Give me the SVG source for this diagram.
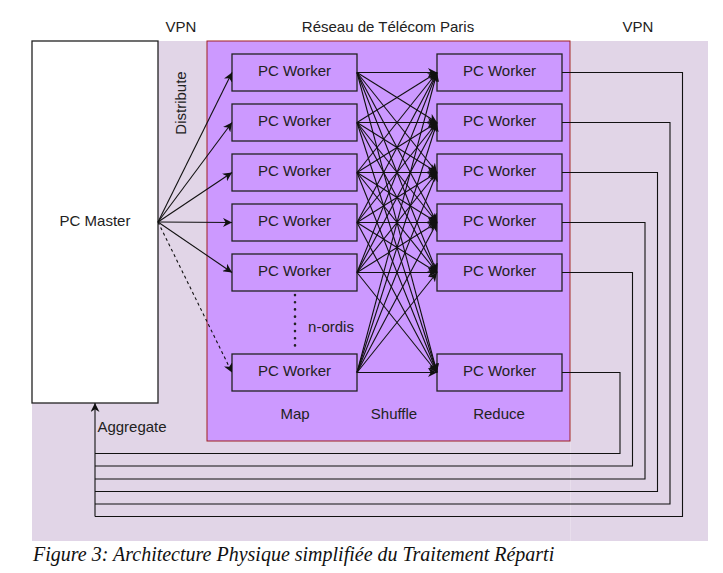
<svg xmlns="http://www.w3.org/2000/svg" width="723" height="573" viewBox="0 0 723 573">
<style>
.t{font-family:"Liberation Sans",Arial,sans-serif;font-size:15px;fill:#222;text-anchor:middle;dominant-baseline:central}
.node{fill:#CC99FF;stroke:#222;stroke-width:1.3}
.c{fill:none;stroke:#111;stroke-width:1.1}
</style>
<defs>
<marker id="ar" viewBox="0 0 10 10" refX="10" refY="5" markerWidth="9" markerHeight="9" markerUnits="userSpaceOnUse" orient="auto">
<path d="M0,0 L10,5 L0,10 L3,5 Z" fill="#111"/>
</marker>
</defs>
<rect width="723" height="573" fill="#fff"/>
<g id="vpn-zone">
<rect x="32" y="41" width="538" height="500" fill="#E1D5E7"/>
<rect x="570" y="41" width="138" height="500" fill="#E1D5E7"/>
<line x1="570.5" y1="41" x2="570.5" y2="541" stroke="#E8DEEC" stroke-width="1"/>
</g>
<g id="telecom-zone">
<rect x="207" y="41" width="363" height="400" fill="#CC99FF" stroke="#A02020" stroke-width="1"/>
</g>
<g id="master">
<rect x="32" y="41" width="126" height="362" fill="#fff" stroke="#222" stroke-width="1.3"/>
<text class="t" x="95" y="220">PC Master</text>
</g>
<g id="map-workers">
<g id="m1"><rect class="node" x="232" y="54" width="125" height="37"/><text class="t" x="294.5" y="70">PC Worker</text></g>
<g id="m2"><rect class="node" x="232" y="104" width="125" height="37"/><text class="t" x="294.5" y="120">PC Worker</text></g>
<g id="m3"><rect class="node" x="232" y="154" width="125" height="37"/><text class="t" x="294.5" y="170">PC Worker</text></g>
<g id="m4"><rect class="node" x="232" y="204" width="125" height="37"/><text class="t" x="294.5" y="220">PC Worker</text></g>
<g id="m5"><rect class="node" x="232" y="254" width="125" height="37"/><text class="t" x="294.5" y="270">PC Worker</text></g>
<g id="m6"><rect class="node" x="232" y="354" width="125" height="37"/><text class="t" x="294.5" y="370">PC Worker</text></g>
</g>
<g id="reduce-workers">
<g id="r1"><rect class="node" x="437" y="54" width="125" height="37"/><text class="t" x="499.5" y="70">PC Worker</text></g>
<g id="r2"><rect class="node" x="437" y="104" width="125" height="37"/><text class="t" x="499.5" y="120">PC Worker</text></g>
<g id="r3"><rect class="node" x="437" y="154" width="125" height="37"/><text class="t" x="499.5" y="170">PC Worker</text></g>
<g id="r4"><rect class="node" x="437" y="204" width="125" height="37"/><text class="t" x="499.5" y="220">PC Worker</text></g>
<g id="r5"><rect class="node" x="437" y="254" width="125" height="37"/><text class="t" x="499.5" y="270">PC Worker</text></g>
<g id="r6"><rect class="node" x="437" y="354" width="125" height="37"/><text class="t" x="499.5" y="370">PC Worker</text></g>
</g>
<g id="connectors">
<g id="distribute">
<line class="c" x1="158" y1="222" x2="232" y2="72.5" marker-end="url(#ar)"/>
<line class="c" x1="158" y1="222" x2="232" y2="122.5" marker-end="url(#ar)"/>
<line class="c" x1="158" y1="222" x2="232" y2="172.5" marker-end="url(#ar)"/>
<line class="c" x1="158" y1="222" x2="232" y2="222.5" marker-end="url(#ar)"/>
<line class="c" x1="158" y1="222" x2="232" y2="272.5" marker-end="url(#ar)"/>
<line class="c" x1="158" y1="222" x2="232" y2="372.5" stroke-dasharray="3,3" marker-end="url(#ar)"/>
</g>
<line x1="295" y1="295" x2="295" y2="352" stroke="#222" stroke-width="2.6" stroke-dasharray="0.1,7.1" stroke-linecap="round"/>
<g id="shuffle">
<line class="c" x1="357" y1="72.5" x2="437" y2="72.5" marker-end="url(#ar)"/>
<line class="c" x1="357" y1="72.5" x2="437" y2="122.5" marker-end="url(#ar)"/>
<line class="c" x1="357" y1="72.5" x2="437" y2="172.5" marker-end="url(#ar)"/>
<line class="c" x1="357" y1="72.5" x2="437" y2="222.5" marker-end="url(#ar)"/>
<line class="c" x1="357" y1="72.5" x2="437" y2="272.5" marker-end="url(#ar)"/>
<line class="c" x1="357" y1="72.5" x2="437" y2="372.5" marker-end="url(#ar)"/>
<line class="c" x1="357" y1="122.5" x2="437" y2="72.5" marker-end="url(#ar)"/>
<line class="c" x1="357" y1="122.5" x2="437" y2="122.5" marker-end="url(#ar)"/>
<line class="c" x1="357" y1="122.5" x2="437" y2="172.5" marker-end="url(#ar)"/>
<line class="c" x1="357" y1="122.5" x2="437" y2="222.5" marker-end="url(#ar)"/>
<line class="c" x1="357" y1="122.5" x2="437" y2="272.5" marker-end="url(#ar)"/>
<line class="c" x1="357" y1="122.5" x2="437" y2="372.5" marker-end="url(#ar)"/>
<line class="c" x1="357" y1="172.5" x2="437" y2="72.5" marker-end="url(#ar)"/>
<line class="c" x1="357" y1="172.5" x2="437" y2="122.5" marker-end="url(#ar)"/>
<line class="c" x1="357" y1="172.5" x2="437" y2="172.5" marker-end="url(#ar)"/>
<line class="c" x1="357" y1="172.5" x2="437" y2="222.5" marker-end="url(#ar)"/>
<line class="c" x1="357" y1="172.5" x2="437" y2="272.5" marker-end="url(#ar)"/>
<line class="c" x1="357" y1="172.5" x2="437" y2="372.5" marker-end="url(#ar)"/>
<line class="c" x1="357" y1="222.5" x2="437" y2="72.5" marker-end="url(#ar)"/>
<line class="c" x1="357" y1="222.5" x2="437" y2="122.5" marker-end="url(#ar)"/>
<line class="c" x1="357" y1="222.5" x2="437" y2="172.5" marker-end="url(#ar)"/>
<line class="c" x1="357" y1="222.5" x2="437" y2="222.5" marker-end="url(#ar)"/>
<line class="c" x1="357" y1="222.5" x2="437" y2="272.5" marker-end="url(#ar)"/>
<line class="c" x1="357" y1="222.5" x2="437" y2="372.5" marker-end="url(#ar)"/>
<line class="c" x1="357" y1="272.5" x2="437" y2="72.5" marker-end="url(#ar)"/>
<line class="c" x1="357" y1="272.5" x2="437" y2="122.5" marker-end="url(#ar)"/>
<line class="c" x1="357" y1="272.5" x2="437" y2="172.5" marker-end="url(#ar)"/>
<line class="c" x1="357" y1="272.5" x2="437" y2="222.5" marker-end="url(#ar)"/>
<line class="c" x1="357" y1="272.5" x2="437" y2="272.5" marker-end="url(#ar)"/>
<line class="c" x1="357" y1="272.5" x2="437" y2="372.5" marker-end="url(#ar)"/>
<line class="c" x1="357" y1="372.5" x2="437" y2="72.5" marker-end="url(#ar)"/>
<line class="c" x1="357" y1="372.5" x2="437" y2="122.5" marker-end="url(#ar)"/>
<line class="c" x1="357" y1="372.5" x2="437" y2="172.5" marker-end="url(#ar)"/>
<line class="c" x1="357" y1="372.5" x2="437" y2="222.5" marker-end="url(#ar)"/>
<line class="c" x1="357" y1="372.5" x2="437" y2="272.5" marker-end="url(#ar)"/>
<line class="c" x1="357" y1="372.5" x2="437" y2="372.5" marker-end="url(#ar)"/>
</g>
<g id="aggregate">
<polyline class="c" points="562,72.5 682.5,72.5 682.5,516.5 95,516.5"/>
<polyline class="c" points="562,122.5 670,122.5 670,504 95,504"/>
<polyline class="c" points="562,172.5 657.5,172.5 657.5,491.5 95,491.5"/>
<polyline class="c" points="562,222.5 645,222.5 645,479 95,479"/>
<polyline class="c" points="562,272.5 632.5,272.5 632.5,466 95,466"/>
<polyline class="c" points="562,372.5 620,372.5 620,453.5 95,453.5"/>
<line class="c" x1="95" y1="516.5" x2="95" y2="403" marker-end="url(#ar)"/>
</g>
</g>
<g id="labels">
<text class="t" x="181" y="26">VPN</text>
<text class="t" x="388" y="26">Réseau de Télécom Paris</text>
<text class="t" x="638" y="26">VPN</text>
<text class="t" transform="translate(180,103) rotate(-90)">Distribute</text>
<text class="t" x="331" y="326">n-ordis</text>
<text class="t" x="295" y="413">Map</text>
<text class="t" x="394" y="413">Shuffle</text>
<text class="t" x="499" y="413">Reduce</text>
<text class="t" x="132" y="426">Aggregate</text>
<text x="33" y="561" font-family="'Liberation Serif','Times New Roman',serif" font-style="italic" font-size="20" fill="#111">Figure 3: Architecture Physique simplifiée du Traitement Réparti</text>
</g>
</svg>
